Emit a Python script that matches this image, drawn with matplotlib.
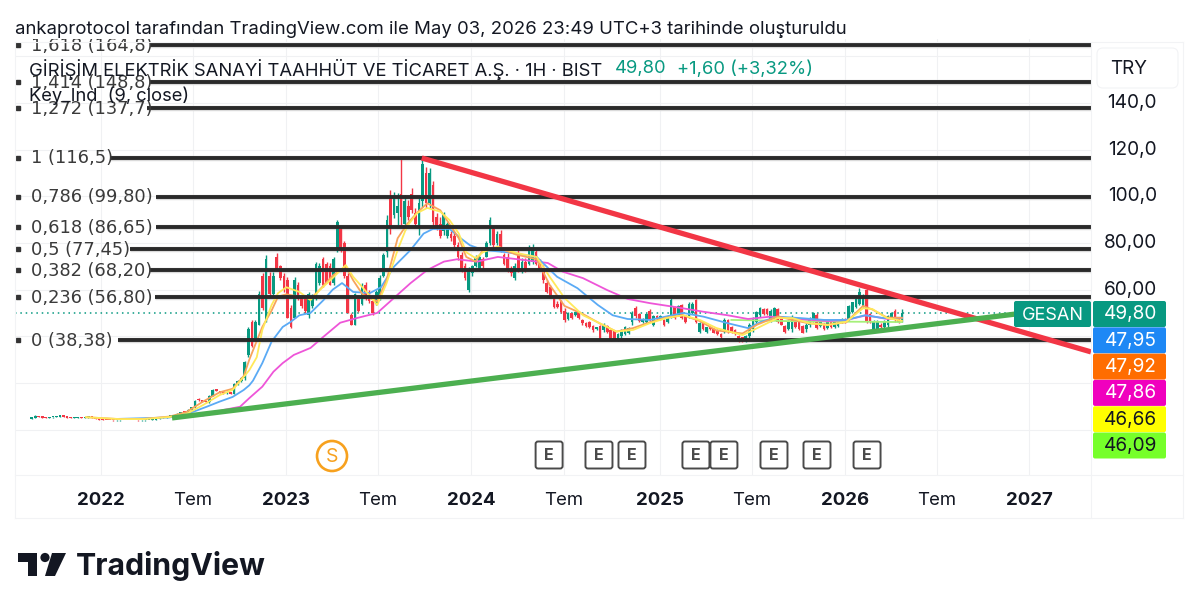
import matplotlib
matplotlib.use("Agg")
import matplotlib.pyplot as plt
import numpy as np
from matplotlib.patches import FancyBboxPatch, Polygon, Circle
from matplotlib.transforms import ScaledTranslation

plt.rcParams['font.family'] = ['Inter', 'DejaVu Sans']

# ---------- weekly candles (TRY) ----------
opens_early = [4.6,4.9,5.6,5.3,5.1, 5.0,5.2,5.4,5.6,5.7, 5.5,5.1,5.0,5.0,5.1, 5.0,5.2,5.4,5.1,4.7,
               4.3,4.2,4.1,4.0,3.9, 3.9,4.0,4.0,4.1,4.1, 4.0,3.9,3.9,
               3.9,4.2,4.3,4.5,4.9,5.1,5.5,5.8,6.0,6.8,7.4,7.3,8.5,9.5,13.2,12.5,12.0,11.8,14.4,17.1,16.5,16.0,15.5,15.9,15.4,19.5,20.8,22]
highs_early = [5.0,6.2,5.7,5.4,5.2, 5.3,5.5,5.7,5.9,6.0, 5.6,5.3,5.3,5.3,5.4, 5.4,5.9,5.5,5.2,4.8,
               4.4,4.3,4.2,4.1,4.1, 4.2,4.2,4.3,4.3,4.2, 4.1,4.1,4.1,
               4.2,4.4,4.6,5.0,5.2,5.6,6,6.2,7,7.7,7.7,8.8,9.8,12.7,13.5,12.7,12.4,14.8,17.4,17.5,16.7,16.2,16.2,15.9,20,21.2,22.7,29.5]
lows_early = [4.5,4.8,5.2,5.0,4.9, 5.0,5.1,5.3,5.5,5.4, 5.0,4.9,4.9,4.9,5.0, 5.0,5.1,5.0,4.6,4.2,
              4.1,4.0,3.9,3.8,3.8, 3.8,3.9,3.9,3.9,3.9, 3.8,3.7,3.7,
              3.9,4.1,4.2,4.4,4.8,5.0,5.4,5.6,5.9,6.6,7.0,7.1,8.3,9.3,12.2,11.8,11.6,11.6,14.2,16.4,15.7,15.3,15.3,15.2,15.2,19.3,20.5,21.2]
closes_early = [4.9,5.7,5.3,5.1,5.0, 5.2,5.4,5.6,5.7,5.5, 5.1,5.0,5.0,5.1,5.0, 5.2,5.4,5.1,4.7,4.3,
                4.2,4.1,4.0,3.9,3.9, 4.0,4.0,4.1,4.1,4.0, 3.9,3.9,3.9,
                4.2,4.3,4.5,4.9,5.1,5.5,5.8,6.0,6.8,7.4,7.3,8.5,9.5,12.2,12.5,12.0,11.8,14.4,16.8,16.6,15.9,15.5,16.0,15.4,19.5,20.8,22.3,29]

opens_a = [32,46,39,45,66, 47,66,58,74,70, 66,64,52,48,62, 57,56,49,53,56, 63,73,71,70,63, 77,86,80,66,49, 45,56,54,62,59, 55,54,56,66]
highs_a = [44.1,47,47,59.5,67, 74.8,67.7,67.7,75.6,70.5, 67,65.5,53.4,65.5,63.4, 57.7,57.7,59,58,72, 71.5,74,72,71.4,74, 89.8,87,81,67,50, 58.5,57.7,62.8,63.4,59.8, 56.4,59.8,66.2,75.7]
lows_a = [31.2,35.5,38.4,44.8,51.2, 46.2,57.7,57.7,68.4,64, 59,47.8,43.5,47.8,55.5, 52,50,47.8,52,55.5, 62,61.2,62.8,62,62, 76.2,76,65,50,44.8, 44.8,50.5,53.4,55.5,54.2, 49,53.4,55.5,65.5]
closes_a = [43,36,46,58,52, 73,58,66,69,65, 60,48,44,64,56, 53,51,58,57,71, 70,62,63,62,73, 89,77,66,50,45, 58,51,62,56,55, 50,59,65,75]

opens_b = [76,100,92,93,101, 88,96,101,93,87, 98,110,97,105,91, 88,85,83,84,83, 79,75,70,60,67, 70,69,73,74,80, 86,80,84,75,74, 69,65,75,68,72, 71,72,76,72,69]
highs_b = [92,102.6,102,101.4,116, 100.5,98.4,103.5,95,99.8, 116.4,112.5,112,106.7,92.8, 91,93.4,89,85,84.8, 80.5,76.2,71.4,69.8,70.5, 74.8,74.8,74,81,91, 87,85,85.5,75.7,75.7, 70,71.4,77,73.4,73.4, 79,79.5,77,73,70.5]
lows_b = [74,84,90.6,87.7,87.7, 85.5,89.8,92.8,87,83.4, 95.5,95,95,87,85.5, 82,83.4,82,81,78.4, 72.7,67.7,64,59,66, 69.8,68,69,74,79, 78.4,79,76,70.5,67.7, 66,64,67.7,67,67.7, 70.5,71,70.5,68,62.7]
closes_b = [90,87,100,96,91, 98,91,94,88,97, 114,97,110,89,87, 83,92,88,82,79, 74,69,65,68,70, 74,74,70,80,90, 79,84,77,71,69, 67,70,69,72,69, 78,78,71,69,64]

opens_c = [63,61,56,54,55, 51,47.5,50,49,50.5, 47,45.8,46,44.5,43, 44.5,42.5,44.5,42.5,42.5, 38.5,40,41,41.5,46, 52,49.5,46,46,51, 45,48.5,47.5,47,46, 48.5,52.5,49,53.5,48.5, 48.5,50,55.5,42]
highs_c = [64,62,56.4,55,55.5, 52,50.5,50,51,51, 47.5,46,46.5,44.8,44, 44.8,45.5,44.8,43,42.8, 41.4,43,44.4,44,51, 53,50,48,50,51.5, 49,49,49,47.5,49, 56.4,53,53.4,54,49, 54.5,54.5,56,46.3]
lows_c = [58.5,56.4,52,52,50, 46.2,47,47.5,48.5,47.5, 45,44,43.5,42,42.8, 38.5,42,41.5,38,38.5, 38,39.4,40.7,41,45, 47.8,46,45.5,45.5,46.5, 44.5,47,47,44.5,45.5, 47.8,47.5,48.5,47.5,45.5, 47.8,49.4,45.5,41.3]
closes_c = [59,57,52.5,52.5,50.5, 47,50,48,50.5,48, 45.5,44.5,44,42.5,44, 39,45,42,38.5,39, 41,42.5,44,43.5,50, 48.5,46.5,47.5,49.5,47, 48.5,47.5,48.5,45,48.5, 55.5,48,53,48,46, 54,54,46,45.5]

opens_d = [46,42,44,43,42.5, 41,42,47,44,42.5, 40,39.5,38,40,43, 46,49,51.5,51.5,47, 48,51.5,48,44.5,43, 43,46.5,46,44.5,43, 45,47,49,44.5,45, 43.5,46,44,44.5,46, 47.5,47.5,50.5,52.5,54, 53,60,49.5,43,43, 45,44,45,48,51, 48,47]
highs_d = [46.3,44,44,43.4,43, 41.3,47.7,47.3,44.4,43, 40.5,39.8,40.5,45.5,48.4, 51,52.7,52,52,51.5, 52.4,52,48.4,44.8,47, 49,47,46.3,44.8,45.5, 48.4,50.5,49.8,46.3,45.5, 46.3,46.3,46.3,47,47.7, 47.7,53.4,54.8,56.3,60.5, 58,60.5,49.8,47,47, 45.5,47,49,50.5,51.5, 48.4,51.5]
lows_d = [42.7,41.3,42.7,41.3,40.5, 39,41.3,41.3,41.5,40.5, 37.7,37.7,37.7,39.1,42, 45.5,48.4,49,49,46.3, 47,45.5,44.8,41.3,42.7, 42,43.4,42.7,41.3,42, 44,46.3,43,44,42.7, 43,43.4,43.4,44,45.5, 45.5,47,49.8,52,53.4, 52.7,45.5,45.5,42,42.7, 43.4,43.4,44,47.7,46.3, 45.8,46.3]
closes_d = [43,44,43,41.5,41, 39.5,47,42,42,41, 38,38,40,45,48, 50.5,52,49.5,49.5,51, 52,46,45,41.8,46, 48,43.8,43,41.5,45, 48,50,43.5,46,43, 46,43.8,46,46.5,47.5, 46,53,54.5,56,59, 57,46,46,46.5,46.5, 43.8,46.5,48.5,50,46.8, 46,49.8]

opens = opens_early + opens_a + opens_b + opens_c + opens_d
highs = highs_early + highs_a + highs_b + highs_c + highs_d
lows = lows_early + lows_a + lows_b + lows_c + lows_d
closes = closes_early + closes_a + closes_b + closes_c + closes_d
assert len(opens) == len(highs) == len(lows) == len(closes)

last_bar_year = 2026.321      # week of May 3, 2026
week = 7 / 365.25

# ---------- moving averages ----------
fast_years = [2021.92,2022.10,2022.23,2022.37,2022.46,2022.55,2022.64,2022.71,2022.77,2022.80,2022.84,2022.87,2022.92,2022.955,
              2023.00,2023.07,2023.13,2023.18,2023.25,2023.32,2023.36,2023.41,2023.46,2023.49,2023.54,2023.60,2023.65,2023.705,2023.76,2023.83,2023.88,2023.93,2023.97,
              2024.02,2024.06,2024.14,2024.24,2024.35,2024.42,2024.50,2024.60,2024.69,2024.78,2024.87,2024.96,
              2025.05,2025.14,2025.23,2025.32,2025.46,2025.54,2025.65,2025.73,2025.82,2025.92,2026.02,2026.11,2026.16,2026.24,2026.32]
yellow_ma = [5.3,4.5,4.5,5.4,6.7,10.5,14.8,17,22.6,25.5,31,42.7,53.4,58.5,61,59,55.5,59.8,65,70.5,65.5,61,56.4,53.4,62.7,77,87,92.8,95,93.4,89.8,84,76,73.5,76,78.4,75.7,74,65.5,56.4,49,45.6,42,42.7,45.6,47.8,49,47,43.5,40.5,43.5,47.8,47.8,45.6,44.8,46.2,52,51.7,47.8,46.66]
orange_ma = [5.3,4.5,4.6,5.6,7.5,12,16,17.5,23,30,38,44,51,57,58,57,56,60,66,70,64,58,56,55,64,82,88,93,97,94,88,82,74,72,77,78,75,73,62,53,49.5,45.5,42,43.5,46,48,49,46.5,42.5,41.2,45,48.5,47,45.5,45,46,53,51.5,48,47.92]

blue_years = [2022.10,2022.37,2022.50,2022.57,2022.64,2022.71,2022.77,2022.80,2022.82,2022.87,2022.92,2022.98,2023.02,2023.07,2023.13,2023.20,2023.25,2023.30,2023.36,2023.45,2023.51,2023.58,2023.67,2023.74,2023.79,2023.88,2023.94,2023.99,2024.06,2024.19,2024.35,2024.46,2024.57,2024.68,2024.76,2024.84,2024.96,2025.14,2025.25,2025.38,2025.49,2025.56,2025.65,2025.77,2025.90,2026.02,2026.12,2026.22,2026.32]
blue_ma = [4.6,5.2,7.7,9.8,12,14,17,19,21,28.5,37.7,44,46,49,50,55.5,60,62.8,59,58.5,61,69.8,77,84,86,86,82,79,77,76,74,65.5,60.6,53.4,49,47.4,47,50,48.4,45.6,43.5,46.2,48.4,47.8,47,47,49,47.8,47.95]

magenta_years = [2022.55,2022.66,2022.75,2022.80,2022.87,2022.93,2022.98,2023.04,2023.13,2023.20,2023.29,2023.38,2023.49,2023.58,2023.67,2023.76,2023.85,2023.92,2024.03,2024.14,2024.28,2024.41,2024.49,2024.60,2024.73,2024.84,2024.96,2025.10,2025.25,2025.38,2025.49,2025.61,2025.76,2025.92,2026.02,2026.13,2026.24,2026.32]
magenta_ma = [6,8.4,9.8,13.5,18.4,24.8,28.5,32,35,39.8,45.8,47.8,50,56.4,62.8,68.4,72,73,72,74,72.7,71.4,67.7,64.9,59.8,56,54.2,52.5,50.5,49,47.4,48.4,47.4,46.5,47,49,47.4,47.86]

lime_years = [2025.40,2025.54,2025.70,2025.92,2026.13,2026.32]
lime_ma = [47,46.8,46.5,46.3,46.2,46.09]

# ---------- drawings ----------
fib_ratios = ["1,618","1,414","1,272","1","0,786","0,618","0,5","0,382","0,236","0"]
fib_prices = [164.8,148.8,137.7,116.5,99.80,86.65,77.45,68.20,56.80,38.38]
fib_texts = ["164,8","148,8","137,7","116,5","99,80","86,65","77,45","68,20","56,80","38,38"]
fib_line_start = [2022.264,2022.264,2022.248,2022.049,2022.297,2022.297,2022.156,2022.264,2022.291,2022.092]

red_line_years = [2023.73, 2027.34]
red_line_prices = [116.4, 33.3]
green_line_years = [2022.383, 2026.93]
green_line_prices = [5.0, 49.5]

x_tick_pos = [2022,2022.496,2022.998,2023.494,2023.996,2024.497,2025.015,2025.511,2026.013,2026.509,2027.005]
x_tick_text = ["2022","Tem","2023","Tem","2024","Tem","2025","Tem","2026","Tem","2027"]
y_ticks = [0,20,40,60,80,100,120,140,160]
y_tick_text = ["","","","60,00","80,00","100,0","120,0","140,0",""]

earnings_years = [2024.417,2024.686,2024.864,2025.209,2025.36,2025.63,2025.862,2026.132]
split_year = 2023.246

last_close = 49.80
price_tags = ["49,80","47,95","47,92","47,86","46,66","46,09"]
tag_colors = ["#089981","#1E88F5","#FF6D00","#F000BE","#FFFF00","#76FF2A"]
tag_text_colors = ["white","white","white","white","#131722","#131722"]

UP, DOWN = "#089981", "#F23645"

# ---------- figure ----------
W, H = 1200, 612
fig = plt.figure(figsize=(W/100, H/100), dpi=100, facecolor="white")
AL, AR, AT, AB = 15, 1091, 39, 475
ax = fig.add_axes([AL/W, 1-AB/H, (AR-AL)/W, (AB-AT)/H])
ax.set_xlim(2021.536, 2027.340)
ax.set_ylim(-19.46, 167.4)
for s in ax.spines.values():
    s.set_visible(False)
ax.set_facecolor("none")

ax.set_xticks(x_tick_pos)
ax.set_xticklabels(x_tick_text, fontsize=13.4, color="#131722")
for t, s in zip(ax.get_xticklabels(), x_tick_text):
    if s != "Tem":
        t.set_fontweight("bold")
ax.yaxis.tick_right()
ax.set_yticks(y_ticks)
ax.set_yticklabels(y_tick_text, fontsize=13.7, color="#131722", ha="right")
ax.tick_params(axis="x", length=0, pad=12)
ax.tick_params(axis="y", length=0, pad=47.5)
up_shift = ScaledTranslation(0, 1.5/72, fig.dpi_scale_trans)
for t in ax.get_yticklabels():
    t.set_transform(t.get_transform() + up_shift)
ax.grid(True, color="#F0F1F3", lw=0.8, zorder=0)
ax.set_axisbelow(True)

# candles
xs = last_bar_year - week*(len(closes)-1-np.arange(len(closes)))
o, h, l, c = map(np.array, (opens, highs, lows, closes))
cols = [UP if b >= a else DOWN for a, b in zip(o, c)]
ax.vlines(xs, l, h, colors=cols, lw=1.0, zorder=3)
ax.bar(xs, np.maximum(np.abs(c-o), 0.6), bottom=np.minimum(o, c), width=0.0145, color=cols, lw=0, zorder=3)

# moving averages
ax.plot(lime_years, lime_ma, color="#A6F07A", lw=1.3, zorder=4)
ax.plot(magenta_years, magenta_ma, color="#EE55D8", lw=1.3, zorder=4)
ax.plot(blue_years, blue_ma, color="#5AAAF5", lw=1.3, zorder=4)
ax.plot(fast_years, orange_ma, color="#F7A35C", lw=1.3, zorder=4)
ax.plot(fast_years, yellow_ma, color="#FFE95A", lw=1.3, zorder=4)

# last-price dotted line
ax.axhline(last_close, color=UP, lw=1.1, ls=(0, (1, 2.5)), zorder=2)

# fib levels and labels
for s0, p, r, t in zip(fib_line_start, fib_prices, fib_ratios, fib_texts):
    ax.plot([s0, 2027.34], [p, p], color="#DADADA", lw=3.9, zorder=2.1, solid_capstyle="butt")
    ax.plot([s0, 2027.34], [p, p], color="#2A2A2A", lw=2.8, zorder=5, solid_capstyle="butt")
    ax.text(2021.62, p-0.3, f"{r} ({t})", fontsize=12.9, family="DejaVu Sans", color="#3A3A3A",
            va="center", ha="left", zorder=6, clip_on=True)
    ax.plot([2021.55], [p], marker="s", ms=2.6, color="#333333", zorder=6, clip_on=True)

# trend lines
ax.plot(red_line_years, red_line_prices, color="#F23645", lw=3.8, zorder=7, solid_capstyle="butt")
ax.plot(green_line_years, green_line_prices, color="#4CAF50", lw=3.8, zorder=7, solid_capstyle="butt")

# overlay in pixel coordinates for the TradingView furniture
ov = fig.add_axes([0, 0, 1, 1], zorder=10)
ov.set_xlim(0, W); ov.set_ylim(H, 0); ov.axis("off"); ov.patch.set_alpha(0)

def year_px(y):
    return AL + (y-2021.536)/(2027.340-2021.536)*(AR-AL)

# frame
for xa, ya, xb, yb in [(15,42,15,518),(15,518,1183,518),(1183,42,1183,518),(15,42,1183,42),(1091,42,1091,518),(15,475,1183,475)]:
    ov.plot([xa,xb],[ya,yb], color="#F2F3F5", lw=0.8, zorder=0)

ov.text(15, 29, "ankaprotocol tarafından TradingView.com ile May 03, 2026 23:49 UTC+3 tarihinde oluşturuldu",
        fontsize=13.35, color="#131722", va="center", ha="left")
ov.text(29, 69, "GİRİŞİM ELEKTRİK SANAYİ TAAHHÜT VE TİCARET A.Ş. · 1H · BIST",
        fontsize=13.25, color="#131722", va="center", ha="left")
ov.text(615, 69, "49,80", fontsize=13.25, color=UP, va="center", ha="left")
ov.text(677, 69, "+1,60 (+3,32%)", fontsize=13.25, color=UP, va="center", ha="left")
ov.text(29, 96, "Key_Ind  (9, close)", fontsize=13.25, color="#131722", va="center", ha="left")

# TRY box
ov.add_patch(FancyBboxPatch((1097,48),81,40, boxstyle="round,pad=0,rounding_size=6", fc="white", ec="#F2F3F5", lw=0.8))
ov.text(1128.5, 69, "TRY", fontsize=13.6, color="#131722", va="center", ha="center")

# price tags
tag_y = 301
for s, fc, tc in zip(price_tags, tag_colors, tag_text_colors):
    ov.add_patch(FancyBboxPatch((1093,tag_y),73,26, boxstyle="round,pad=0,rounding_size=2", fc=fc, ec="none"))
    ov.text(1157, tag_y+13.5, s, fontsize=13.7, color=tc, va="center", ha="right")
    tag_y += 26.3
ov.add_patch(FancyBboxPatch((1014,301),77,26, boxstyle="round,pad=0,rounding_size=2", fc=UP, ec="none"))
ov.text(1052.5, 315, "GESAN", fontsize=13, color="white", va="center", ha="center")

# split and earnings markers
sx = year_px(split_year)
ov.add_patch(Circle((sx,456), 15, fc="white", ec="#F7A11E", lw=1.9))
ov.text(sx, 456.5, "S", fontsize=14, color="#F7A11E", va="center", ha="center")
for e in earnings_years:
    ex = year_px(e)
    ov.add_patch(FancyBboxPatch((ex-13.5,441.5),27,27, boxstyle="round,pad=0,rounding_size=2.5", fc="white", ec="#4A4A4A", lw=1.4))
    ov.text(ex, 455.5, "E", fontsize=11.5, fontweight="bold", color="#4A4A4A", va="center", ha="center")

# logo
ov.add_patch(Polygon([(18,553),(37,553),(37,576),(28,576),(28,562),(18,562)], fc="#131722", ec="none"))
ov.add_patch(Circle((45,557.5), 4.6, fc="#131722", ec="none"))
ov.add_patch(Polygon([(52,553),(66,553),(55,576),(45,576)], fc="#131722", ec="none"))
ov.text(76, 566, "TradingView", fontsize=21.8, fontweight="bold", color="#131722", va="center", ha="left")

fig.savefig("out.png", dpi=100, facecolor="white")
